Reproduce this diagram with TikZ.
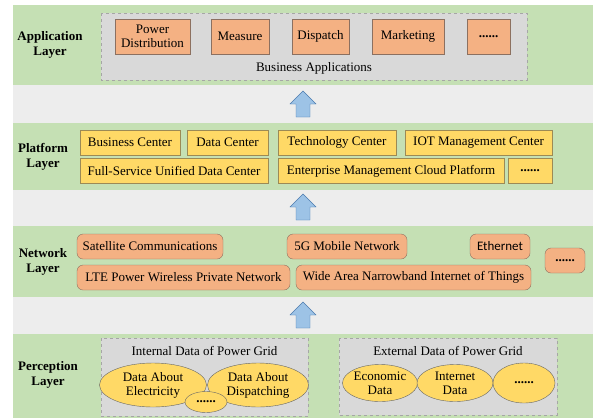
\documentclass[tikz,border=0pt]{standalone}
\usepackage{fontspec}
\setmainfont{Liberation Serif}
\newfontfamily\calfont{Carlito}
\usetikzlibrary{shapes.geometric}

\definecolor{bandgreen}{HTML}{C5E0B4}
\definecolor{bandgray}{HTML}{EDEDED}
\definecolor{groupgray}{HTML}{D9D9D9}
\definecolor{appfill}{HTML}{F4B183}
\definecolor{appline}{HTML}{8C7060}
\definecolor{platfill}{HTML}{FFD966}
\definecolor{platline}{HTML}{9C8A55}
\definecolor{arrowfill}{HTML}{9DC3E6}
\definecolor{arrowline}{HTML}{4A7AAE}

\tikzset{
  layerlabel/.style={font=\fontsize{13}{15}\selectfont\bfseries, align=center},
  groupbox/.style={draw=gray!70, dashed, fill=groupgray},
  appbox/.style={draw=appline, fill=appfill, inner sep=0pt, align=center},
  platbox/.style={draw=platline, fill=platfill, inner sep=0pt},
  netbox/.style={draw=appline, fill=appfill, rounded corners=6pt, inner sep=0pt},
  databubble/.style={ellipse, draw=gray!80!black, fill=platfill, inner sep=0pt, align=center},
  uparrow/.style={draw=arrowline, fill=arrowfill, line join=miter}
}

\begin{document}
\begin{tikzpicture}[x=1pt, y=-1pt, font=\fontsize{13}{14}\selectfont]
  \useasboundingbox (0,0) rectangle (593,418);

  % layer bands
  \fill[bandgreen] (13,5) rectangle (593,85);
  \fill[bandgray] (13,85) rectangle (593,123);
  \fill[bandgreen] (13,123) rectangle (593,190);
  \fill[bandgray] (13,190) rectangle (593,226);
  \fill[bandgreen] (13,226) rectangle (593,297);
  \fill[bandgray] (13,297) rectangle (593,334);
  \fill[bandgreen] (13,334) rectangle (593,418);

  % up arrows between layers
  \draw[uparrow] (296,117) -- (296,104) -- (290,104) -- (303,91) -- (316,104) -- (310,104) -- (310,117) -- cycle;
  \draw[uparrow] (296,220) -- (296,207) -- (290,207) -- (303,194) -- (316,207) -- (310,207) -- (310,220) -- cycle;
  \draw[uparrow] (296,328) -- (296,315) -- (290,315) -- (303,302) -- (316,315) -- (310,315) -- (310,328) -- cycle;

  % application layer
  \node[layerlabel] (applabel) at (50,45) {Application\\Layer};
  \draw[groupbox] (101,13) rectangle (527,80);
  \node[appbox, minimum width=75, minimum height=35] (powerdist) at (152.5,36.5) {Power\\Distribution};
  \node[appbox, minimum width=58, minimum height=35] (measure) at (240,36.5) {Measure};
  \node[appbox, minimum width=57, minimum height=35] (dispatch) at (320.5,36.5) {Dispatch};
  \node[appbox, minimum width=72, minimum height=35] (marketing) at (408,36.5) {Marketing};
  \node[appbox, minimum width=43, minimum height=35] (appmore) at (488.5,36.5) {\textbf{......}};
  \node (bizapps) at (314,68) {Business Applications};

  % platform layer
  \node[layerlabel] (platlabel) at (43,157) {Platform\\Layer};
  \node[platbox, minimum width=100, minimum height=25] (bizcenter) at (130,142.5) {Business Center};
  \node[platbox, minimum width=81, minimum height=25] (datacenter) at (227.5,142.5) {Data Center};
  \node[platbox, minimum width=118, minimum height=25] (techcenter) at (337,142.5) {Technology Center};
  \node[platbox, minimum width=147, minimum height=25] (iotcenter) at (478.5,142.5) {IOT Management Center};
  \node[platbox, minimum width=188, minimum height=25] (fullservice) at (174,171) {Full-Service Unified Data Center};
  \node[platbox, minimum width=226, minimum height=25] (cloudplat) at (391,171) {Enterprise Management Cloud Platform};
  \node[platbox, minimum width=44, minimum height=25] (platmore) at (530,171) {\textbf{......}};

  % network layer
  \node[layerlabel] (netlabel) at (43,262) {Network\\Layer};
  \node[netbox, minimum width=146, minimum height=25] (satellite) at (150,246.5) {Satellite Communications};
  \node[netbox, minimum width=120, minimum height=25] (fivegnet) at (347,246.5) {5G Mobile Network};
  \node[netbox, minimum width=60, minimum height=25] (ethernet) at (500,246.5) {\calfont Ethernet};
  \node[netbox, minimum width=213, minimum height=25] (ltenet) at (183.5,277.5) {LTE Power Wireless Private Network};
  \node[netbox, minimum width=235, minimum height=25] (nbiot) at (413.5,277.5) {Wide Area Narrowband Internet of Things};
  \node[netbox, minimum width=40, minimum height=25] (netmore) at (565,260.5) {\textbf{......}};

  % perception layer
  \node[layerlabel] (perclabel) at (48,375) {Perception\\Layer};
  \draw[groupbox] (101,338) rectangle (308,416);
  \node (internal) at (204.5,351) {Internal Data of Power Grid};
  \node[databubble, minimum width=107, minimum height=44] (electricity) at (153,385) {Data About\\Electricity};
  \node[databubble, minimum width=101, minimum height=44] (dispatching) at (258,385) {Data About\\Dispatching};
  \node[databubble, minimum width=42, minimum height=21] (intmore) at (206,402) {\textbf{......}};
  \draw[groupbox] (339,338) rectangle (557,415);
  \node (external) at (448,351) {External Data of Power Grid};
  \node[databubble, minimum width=75, minimum height=37] (economic) at (380,383) {Economic\\Data};
  \node[databubble, minimum width=76, minimum height=37] (internet) at (455,383) {Internet\\Data};
  \node[databubble, minimum width=62, minimum height=40] (extmore) at (524,383) {\textbf{......}};
\end{tikzpicture}
\end{document}
